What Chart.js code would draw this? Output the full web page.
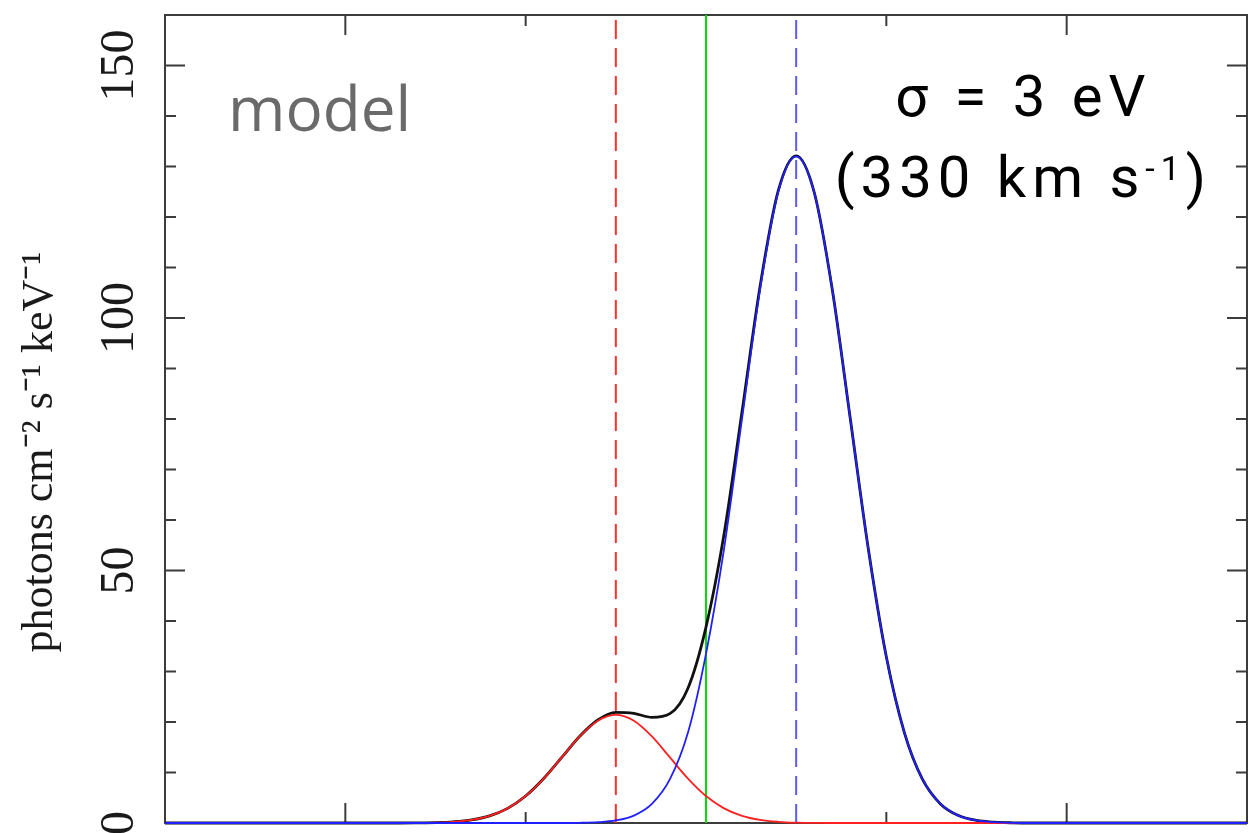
<!DOCTYPE html>
<html><head><meta charset="utf-8">
<script src="https://cdn.jsdelivr.net/npm/chart.js@4.4.1/dist/chart.umd.min.js"></script>
<style>html,body{margin:0;padding:0;background:#fff}#wrap{width:1250px;height:833px;position:relative}</style>
</head><body><div id="wrap"><canvas id="c"></canvas></div>
<script>
// energy axis (eV, relative), one sample per eV
const energyEv = [0,1,2,3,4,5,6,7,8,9,10,11,12,13,14,15,16,17,18,19,20,21,22,23,24,25,26,27,28,29,30,31,32,33,34,35,36,37,38,39,40,41,42,43,44,45,46,47,48,49,50,51,52,53,54,55,56,57,58,59,60];
// total model (black)
const totalModel = [0,0,0,0,0,0,0,0,0,0,0,0,0,0,0.03,0.08,0.24,0.61,1.41,2.90,5.34,8.80,12.98,17.18,20.40,21.91,21.71,20.92,21.65,26.7,38.8,57.2,81.5,106.3,125.1,132.1,124.9,105.7,80.1,54.3,32.9,17.9,8.67,3.78,1.47,0.51,0.16,0.04,0,0,0,0,0,0,0,0,0,0,0,0,0];
// red component
const redComponent = [0,0,0,0,0,0,0,0,0,0,0,0,0,0,0.03,0.08,0.24,0.61,1.41,2.90,5.34,8.80,12.98,17.14,20.24,21.4,20.24,17.14,12.98,8.80,5.34,2.90,1.41,0.61,0.24,0.08,0.03,0,0,0,0,0,0,0,0,0,0,0,0,0,0,0,0,0,0,0,0,0,0,0,0];
// blue component
const blueComponent = [0,0,0,0,0,0,0,0,0,0,0,0,0,0,0,0,0,0,0,0,0,0,0,0.04,0.16,0.51,1.47,3.78,8.67,17.9,33.5,54.3,80.1,105.7,124.9,132,124.9,105.7,80.1,54.3,32.9,17.9,8.67,3.78,1.47,0.51,0.16,0.04,0,0,0,0,0,0,0,0,0,0,0,0,0];
// marker line positions (eV)
const redLineEv = 25;
const greenLineEv = 30;
const blueLineEv = 35;
// axes
const xMin = 0, xMax = 60;
const yMin = 0, yMax = 160;
const yLabelTicks = [0, 50, 100, 150];
const yMinorTicks = [10,20,30,40,60,70,80,90,110,120,130,140];
const yMajorTicks = [50,100,150];
const xMinorTicks = [20,30,40];
const xMajorTicks = [10,50];
const yTitle = 'photons cm\u207B\u00B2 s\u207B\u00B9 keV\u207B\u00B9';
const modelLabel = 'model';
const sigmaLine1 = '\u03C3 = 3 eV';
const sigmaLine2 = ['(330 km s', '-1', ')'];

const pts = arr => energyEv.map((e, i) => ({x: e, y: arr[i]}));
const vline = v => [{x: v, y: yMin}, {x: v, y: yMax}];

const framePlugin = {
  id: 'frame',
  beforeDatasetsDraw(chart) {
    const {ctx, chartArea: a, scales: {x, y}} = chart;
    ctx.save();
    ctx.strokeStyle = '#3c3c3c';
    ctx.lineWidth = 2;
    ctx.strokeRect(a.left, a.top, a.right - a.left, a.bottom - a.top);
    ctx.beginPath();
    const yt = (v, len) => {
      const p = y.getPixelForValue(v);
      ctx.moveTo(a.left, p); ctx.lineTo(a.left + len, p);
      ctx.moveTo(a.right, p); ctx.lineTo(a.right - len, p);
    };
    const xt = (v, len) => {
      const p = x.getPixelForValue(v);
      ctx.moveTo(p, a.bottom); ctx.lineTo(p, a.bottom - len);
      ctx.moveTo(p, a.top); ctx.lineTo(p, a.top + len);
    };
    yMinorTicks.forEach(v => yt(v, 11));
    yMajorTicks.forEach(v => yt(v, 20));
    xMinorTicks.forEach(v => xt(v, 11));
    xMajorTicks.forEach(v => xt(v, 20));
    ctx.stroke();
    ctx.restore();
  },
  afterDraw(chart) {
    const {ctx, scales: {x, y}} = chart;
    ctx.save();
    ctx.textBaseline = 'alphabetic';
    ctx.textAlign = 'left';
    ctx.fillStyle = '#6a6a6a';
    ctx.font = '62px "Open Sans"';
    ctx.fillText(modelLabel, x.getPixelForValue(3.5), y.getPixelForValue(137));

    ctx.fillStyle = '#000';
    ctx.letterSpacing = '6px';
    const big = '58px Roboto', small = '34px Roboto';
    const cx = x.getPixelForValue(47.6);
    ctx.font = big;
    const w1 = ctx.measureText(sigmaLine1).width;
    ctx.fillText(sigmaLine1, cx - w1 / 2, y.getPixelForValue(140));
    const b2 = y.getPixelForValue(124);
    ctx.font = big; const wa = ctx.measureText(sigmaLine2[0]).width; const wc = ctx.measureText(sigmaLine2[2]).width;
    ctx.font = small; const wb = ctx.measureText(sigmaLine2[1]).width;
    let sx = cx - (wa + wb + wc) / 2;
    ctx.font = big; ctx.fillText(sigmaLine2[0], sx, b2); sx += wa;
    ctx.font = small; ctx.fillText(sigmaLine2[1], sx, b2 - 17); sx += wb;
    ctx.font = big; ctx.fillText(sigmaLine2[2], sx, b2);
    ctx.restore();
  }
};

new Chart(document.getElementById('c'), {
  type: 'line',
  data: {
    datasets: [
      {label: 'red line', data: vline(redLineEv), borderColor: '#ff3030', borderWidth: 2, borderDash: [19, 9], pointRadius: 0, order: 10},
      {label: 'green line', data: vline(greenLineEv), borderColor: '#00dd00', borderWidth: 2, pointRadius: 0, order: 9},
      {label: 'blue line', data: vline(blueLineEv), borderColor: '#5a5aff', borderWidth: 2, borderDash: [19, 9], pointRadius: 0, order: 8},
      {label: 'total', data: pts(totalModel), borderColor: '#111111', borderWidth: 2.8, pointRadius: 0, cubicInterpolationMode: 'monotone', order: 5, clip: 4},
      {label: 'red', data: pts(redComponent), borderColor: '#ff2020', borderWidth: 1.8, pointRadius: 0, cubicInterpolationMode: 'monotone', order: 3, clip: 4},
      {label: 'blue', data: pts(blueComponent), borderColor: '#2020ff', borderWidth: 1.8, pointRadius: 0, cubicInterpolationMode: 'monotone', order: 2, clip: 4}
    ]
  },
  options: {
    responsive: true,
    maintainAspectRatio: false,
    animation: false,
    layout: {padding: {top: 15, right: 3, bottom: 10, left: 0}},
    plugins: {legend: {display: false}, tooltip: {enabled: false}},
    scales: {
      x: {type: 'linear', min: xMin, max: xMax, display: false},
      y: {
        type: 'linear', min: yMin, max: yMax,
        afterBuildTicks: s => { s.ticks = yLabelTicks.map(v => ({value: v})); },
        afterFit: s => { s.width = 165; s.paddingTop = 0; s.paddingBottom = 0; },
        grid: {display: false, drawTicks: false},
        border: {display: false},
        ticks: {
          minRotation: 90, maxRotation: 90, crossAlign: 'center', padding: 9,
          color: '#1a1a1a', font: {family: '"Liberation Serif"', size: 48}
        },
        title: {
          display: true, text: yTitle + '      ', color: '#1a1a1a',
          font: {family: '"Liberation Serif"', size: 44}, padding: {top: 14, bottom: 0}
        }
      }
    }
  },
  plugins: [framePlugin]
});
</script></body></html>
